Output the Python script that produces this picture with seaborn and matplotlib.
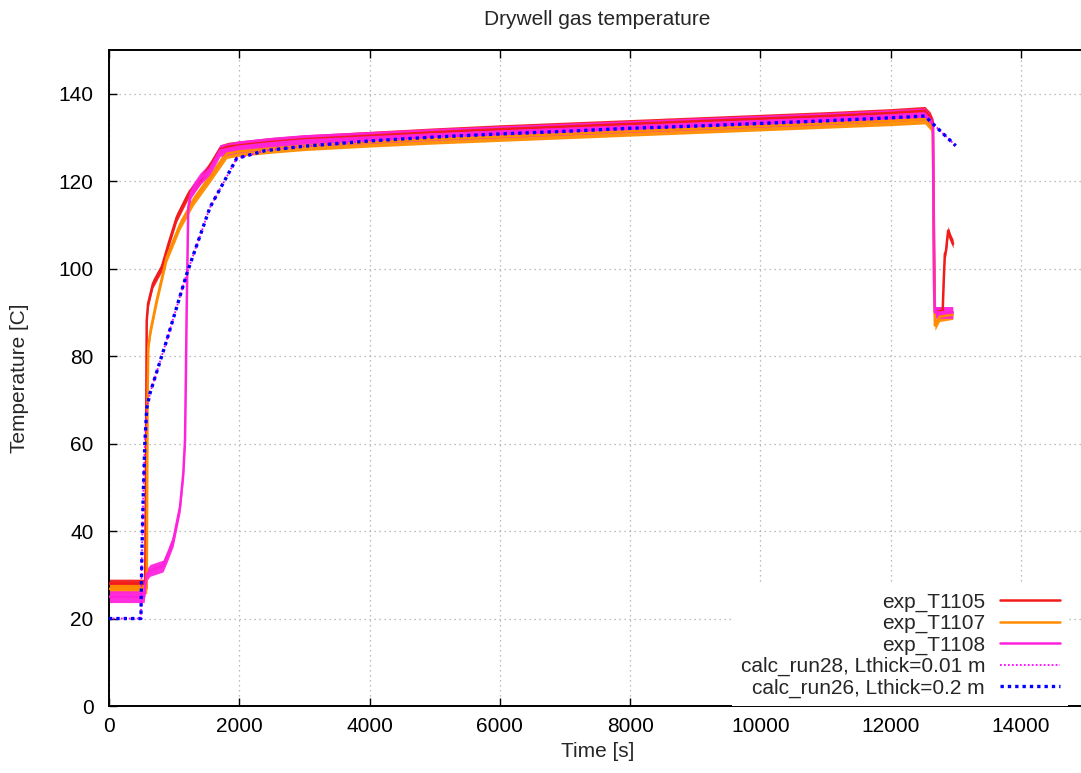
import numpy as np
import pandas as pd
import matplotlib
matplotlib.use("Agg")
import matplotlib.pyplot as plt
import seaborn as sns

# ---- measured drywell gas temperatures [C] versus time [s] ----
t_T1105 = [0, 555, 568, 579, 600, 675, 809, 920, 1039, 1217, 1397, 1550, 1704, 1830, 2000,
           2500, 3000, 4000, 5000, 6000, 7000, 8000, 9000, 10000, 11000, 12000, 12526,
           12610, 12650, 12665, 12680, 12800, 12815, 12833, 12850, 12883, 12920, 12960]
T_T1105 = [28, 28, 55, 88, 92, 96.6, 100.3, 106, 111.7, 117, 120.2, 123.5, 127.3, 127.9, 128.2,
           129.0, 129.6, 130.4, 131.2, 131.9, 132.5, 133.1, 133.7, 134.3, 134.9, 135.6, 136.1,
           134.8, 133.3, 110, 90, 90.4, 97, 103.4, 104, 108.7, 107, 105.7]

t_T1107 = [0, 580, 592, 603, 640, 732, 886, 1090, 1294, 1550, 1807, 2000, 2500, 3000, 4000,
           5000, 6000, 7000, 8000, 9000, 10000, 11000, 12000, 12526, 12610, 12648, 12665,
           12680, 12700, 12750, 12955]
T_T1107 = [26.8, 26.8, 70, 82, 86, 92.7, 102.6, 110, 115.5, 120.8, 126.3, 126.8, 127.5, 128.1, 128.9,
           129.6, 130.2, 130.8, 131.4, 132.0, 132.6, 133.2, 133.8, 134.2, 132.8, 131.5, 100,
           87, 87.5, 89, 89.5]

t_T1108 = [0, 540, 553, 580, 629, 829, 900, 987, 1090, 1140, 1167, 1180, 1193, 1217, 1260,
           1397, 1550, 1704, 2000, 2500, 3000, 4000, 5000, 6000, 7000, 8000, 9000, 10000,
           11000, 12000, 12526, 12610, 12650, 12668, 12680, 12955]
T_T1108 = [25, 25, 27, 30, 31, 32, 34.5, 37.9, 45.5, 53, 60.7, 75, 91, 114, 117.5,
           120.5, 122.8, 127, 127.9, 128.7, 129.3, 130.0, 130.7, 131.3, 131.9, 132.5, 133.1, 133.7,
           134.3, 135.0, 135.4, 134.0, 133.0, 95, 90, 90]

# approximate scatter half-width of each thermocouple signal [C]
noise_T1105 = 1.0
noise_T1107 = 1.1
noise_T1108 = 1.35

# ---- calculated drywell gas temperature [C] ----
t_run28 = [0, 490, 505, 527, 550, 579, 629, 886, 1193, 1550, 1960, 2400, 3000, 4000, 5000,
           6000, 7000, 8000, 9000, 10000, 11000, 12000, 12526, 13000]
T_run28 = [20, 20, 35, 49, 60, 68, 71.5, 83.6, 98.8, 114, 125.2, 127, 128, 129.2, 130.1,
           130.8, 131.4, 132.1, 132.6, 133.2, 133.8, 134.5, 134.9, 128.1]

t_run26 = [0, 490, 505, 527, 550, 579, 629, 886, 1193, 1550, 1960, 2400, 3000, 4000, 5000,
           6000, 7000, 8000, 9000, 10000, 11000, 12000, 12526, 13000]
T_run26 = [20, 20, 35, 49, 60, 68, 71.5, 83.6, 98.8, 114, 125.2, 127, 128, 129.2, 130.1,
           130.8, 131.4, 132.1, 132.6, 133.2, 133.8, 134.5, 134.9, 128.1]

x_ticks = [0, 2000, 4000, 6000, 8000, 10000, 12000, 14000]
y_ticks = [0, 20, 40, 60, 80, 100, 120, 140]

sns.set_theme(style="ticks")
plt.rcParams["font.family"] = ["Liberation Sans", "DejaVu Sans"]
plt.rcParams["font.size"] = 15

fig = plt.figure(figsize=(10.81, 7.73), dpi=100)
ax = fig.add_axes([109 / 1081, 67 / 773, 977 / 1081, 656 / 773])

measured = [
    ("exp_T1105", t_T1105, T_T1105, noise_T1105, "#f21b1b"),
    ("exp_T1107", t_T1107, T_T1107, noise_T1107, "#ff8c00"),
    ("exp_T1108", t_T1108, T_T1108, noise_T1108, "#ff22dd"),
]
for name, t, v, hw, col in measured:
    df = pd.DataFrame({"t": t, "T": v})
    tt = np.asarray(t, float)
    vv = np.asarray(v, float)
    ax.fill_between(tt, vv - hw, vv + hw, color=col, linewidth=0, alpha=0.95, zorder=2)
    sns.lineplot(data=df, x="t", y="T", ax=ax, color=col, linewidth=1.8,
                 sort=False, estimator=None, label=name, zorder=3)

calc = [
    ("calc_run28, Lthick=0.01 m", t_run28, T_run28, "#ff00ff", 1.3, (0, (1, 1.2))),
    ("calc_run26, Lthick=0.2 m", t_run26, T_run26, "#0000ff", 2.4, (0, (1, 1.2))),
]
for name, t, v, col, lw, ls in calc:
    df = pd.DataFrame({"t": t, "T": v})
    sns.lineplot(data=df, x="t", y="T", ax=ax, color=col, linewidth=lw, linestyle=ls,
                 sort=False, estimator=None, label=name, zorder=4)

ax.set_xlim(0, 15000)
ax.set_ylim(0, 150)
ax.set_xticks(x_ticks)
ax.set_yticks(y_ticks)
ax.grid(True, linestyle=(0, (1, 3)), color="#a8a8a8", linewidth=0.9)
ax.tick_params(direction="in", length=6, width=1.0, top=True, right=False,
               labelsize=15, colors="black")
ax.tick_params(axis="y", pad=11)
ax.tick_params(axis="x", pad=8)
for side in ["left", "bottom", "top"]:
    ax.spines[side].set_color("black")
    ax.spines[side].set_linewidth(1.4)
ax.spines["right"].set_visible(False)

ax.set_title("Drywell gas temperature", fontsize=15, pad=18)
ax.set_xlabel("Time [s]", fontsize=15, labelpad=4)
ax.set_ylabel("Temperature [C]", fontsize=15, labelpad=21)

leg = ax.legend(loc="lower right", bbox_to_anchor=(0.982, 0.0), borderaxespad=0,
                markerfirst=False, frameon=True, fancybox=False, framealpha=1,
                facecolor="white", edgecolor="none", fontsize=15,
                handlelength=2.9, handletextpad=0.7, labelspacing=0.11, borderpad=0.4)
for txt in leg.get_texts():
    txt.set_ha("right")
leg.set_zorder(5)

fig.savefig("out.png", dpi=100)
